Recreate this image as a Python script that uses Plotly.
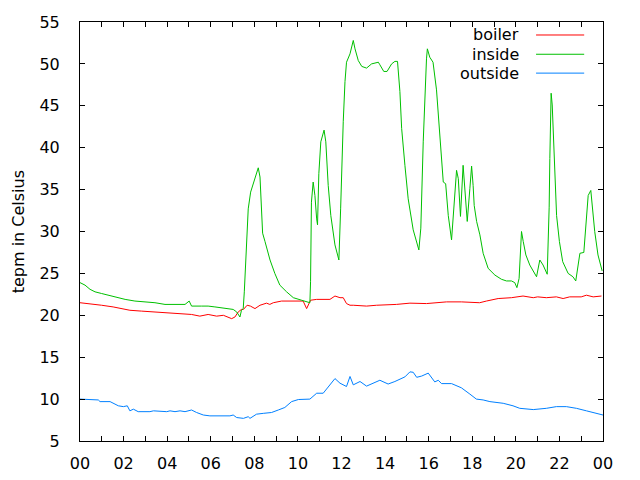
import plotly.graph_objects as go

# temperatures over one day, hours since midnight
boiler_hours = [0.0, 0.38, 0.99, 1.52, 1.91, 2.29, 2.83, 3.44, 4.05, 4.66, 5.12, 5.5, 5.88,
                6.27, 6.58, 6.96, 7.11, 7.26, 7.41, 7.5, 7.67, 7.82, 8.03, 8.26, 8.56, 8.71,
                8.87, 9.25, 9.6, 10.24, 10.4, 10.58, 10.86, 11.01, 11.47, 11.7, 11.93, 12.08,
                12.23, 12.39, 12.54, 13.15, 13.61, 14.52, 15.14, 15.9, 16.5, 16.82, 17.5,
                18.19, 18.34, 18.65, 19.19, 19.8, 20.18, 20.33, 20.8, 21.0, 21.4, 21.86,
                22.17, 22.47, 23.0, 23.24, 23.55, 23.93]
boiler_temp = [21.5, 21.4, 21.2, 21.0, 20.8, 20.6, 20.5, 20.4, 20.3, 20.2, 20.1, 19.9, 20.1,
               19.9, 20.0, 19.6, 19.8, 20.4, 20.7, 20.7, 21.2, 21.1, 20.8, 21.2, 21.45, 21.3,
               21.5, 21.7, 21.7, 21.7, 20.8, 21.8, 21.9, 21.9, 21.9, 22.3, 22.1, 22.1,
               21.4, 21.2, 21.2, 21.1, 21.2, 21.3, 21.45, 21.4, 21.5, 21.6, 21.6,
               21.5, 21.5, 21.7, 22.0, 22.1, 22.2, 22.3, 22.1, 22.2, 22.1, 22.2,
               22.0, 22.2, 22.2, 22.4, 22.2, 22.3]

inside_hours = [0.0, 0.23, 0.46, 0.69, 0.99, 1.3, 1.7, 2.07, 2.52, 2.98, 3.44, 3.9, 4.36,
                4.82, 5.01, 5.12, 5.58, 5.88, 6.19, 6.5, 6.8, 7.03, 7.19, 7.29, 7.34, 7.41,
                7.49, 7.54, 7.65, 7.72, 7.83, 7.95, 8.1, 8.18, 8.26, 8.3, 8.38, 8.49, 8.72,
                8.94, 9.17, 9.48, 9.79, 10.17, 10.55, 10.58, 10.62, 10.7, 10.78, 10.86, 10.9,
                10.96, 11.05, 11.2, 11.28, 11.39, 11.51, 11.7, 11.88, 11.96, 12.03, 12.08,
                12.16, 12.23, 12.39, 12.54, 12.62, 12.77, 12.93, 13.15, 13.38, 13.69, 13.76,
                13.94, 14.09, 14.3, 14.45, 14.57, 14.68, 14.76, 14.91, 15.06, 15.29, 15.55,
                15.64, 15.75, 15.9, 15.94, 16.05, 16.2, 16.36, 16.44, 16.55, 16.67, 16.78,
                16.9, 17.05, 17.13, 17.2, 17.28, 17.36, 17.43, 17.46, 17.58, 17.66, 17.7,
                17.77, 17.89, 17.97, 18.04, 18.09, 18.2, 18.35, 18.5, 18.73, 19.04, 19.34,
                19.57, 19.8, 19.95, 20.05, 20.15, 20.26, 20.34, 20.46, 20.64, 20.95, 21.1,
                21.25, 21.44, 21.48, 21.53, 21.56, 21.59, 21.62, 21.67, 21.71, 21.76, 21.87,
                22.0, 22.15, 22.4, 22.62, 22.75, 22.85, 22.94, 23.12, 23.24, 23.32, 23.44,
                23.51, 23.62, 23.77, 23.96]
inside_temp = [23.9, 23.6, 23.1, 22.8, 22.6, 22.4, 22.1, 21.9, 21.7, 21.6, 21.5, 21.3, 21.3,
               21.3, 21.7, 21.1, 21.1, 21.1, 21.0, 20.9, 20.8, 20.7, 20.4, 20.0, 19.8, 20.6,
               20.8, 22.8, 30.2, 32.7, 34.7, 35.7, 36.9, 37.6, 36.5, 33.7, 29.8, 28.8, 26.6,
               25.0, 23.6, 22.8, 22.1, 21.8, 21.5, 24.0, 33.5, 35.9, 34.3, 31.5, 30.8,
               36.9, 40.7, 42.1, 40.7, 35.5, 31.9, 28.4, 26.6, 32.7, 40.7, 43.1,
               47.9, 50.2, 51.2, 52.8, 51.8, 50.4, 49.7, 49.5, 50.0, 50.2, 49.9,
               49.1, 49.1, 50.0, 50.3, 50.3, 46.7, 42.3, 37.9, 33.9, 30.2, 27.8,
               30.4, 40.7, 50.6, 51.8, 50.8, 50.2, 46.9, 44.0, 39.5, 35.9, 35.7,
               31.9, 29.0, 31.9, 34.1, 37.3, 36.3, 32.7, 31.8, 37.9, 35.1, 33.7,
               31.2, 35.1, 37.8, 35.5, 33.1, 31.2, 29.6, 27.4, 25.6, 24.8, 24.3,
               24.1, 24.1, 23.9, 23.3, 24.4, 30.0, 28.8, 27.2, 26.0, 24.6, 26.6,
               26.0, 24.9, 27.6, 32.9, 38.7, 43.9, 46.5, 45.1, 42.1, 38.9, 31.9,
               28.8, 26.4, 25.0, 24.6, 24.1, 25.6, 27.4, 27.5, 31.5, 34.3, 34.9,
               32.9, 30.0, 27.2, 25.3]

outside_hours = [0.0, 0.84, 0.92, 1.38, 1.76, 1.99, 2.17, 2.29, 2.45, 2.67, 3.21, 3.37, 3.98,
                 4.13, 4.36, 4.59, 4.82, 5.12, 5.35, 5.66, 5.96, 6.88, 7.03, 7.19, 7.5, 7.72,
                 7.8, 8.1, 8.41, 8.79, 9.1, 9.4, 9.71, 10.02, 10.55, 10.86, 11.16, 11.47,
                 11.7, 11.93, 12.23, 12.39, 12.54, 12.85, 13.15, 13.76, 14.14, 14.45, 14.91,
                 15.14, 15.29, 15.45, 15.68, 15.98, 16.28, 16.44, 16.59, 17.05, 17.5, 17.89,
                 18.19, 18.5, 18.81, 19.42, 19.87, 20.18, 20.8, 21.4, 21.86, 22.32, 22.78,
                 23.24, 23.85, 24.0]
outside_temp = [10.0, 9.9, 9.7, 9.7, 9.2, 9.1, 9.2, 8.6, 8.8, 8.5, 8.5, 8.6, 8.5,
                8.6, 8.5, 8.6, 8.5, 8.7, 8.4, 8.1, 8.0, 8.0, 8.1, 7.8, 7.7, 7.9,
                7.7, 8.2, 8.3, 8.4, 8.7, 9.0, 9.7, 9.95, 10.0, 10.7, 10.7, 11.7,
                12.45, 11.9, 11.5, 12.7, 11.7, 12.1, 11.55, 12.25, 11.8, 12.1, 12.65,
                13.25, 13.2, 12.6, 12.75, 13.1, 12.05, 12.25, 11.85, 11.85, 11.35, 10.6,
                10.0, 9.9, 9.7, 9.5, 9.2, 8.9, 8.75, 8.9, 9.1, 9.1, 8.9,
                8.6, 8.2, 8.1]

hour_labels = ["00", "02", "04", "06", "08", "10", "12", "14", "16", "18", "20", "22", "00"]

series = [
    ("boiler", boiler_hours, boiler_temp, "#ff0000"),
    ("inside", inside_hours, inside_temp, "#00c000"),
    ("outside", outside_hours, outside_temp, "#0080ff"),
]

font = "DejaVu Sans"
fig = go.Figure()
for name, xs, ys, col in series:
    fig.add_trace(go.Scatter(x=xs, y=ys, mode="lines", name=name,
                             line=dict(color=col, width=1), showlegend=False))

# gnuplot style key: text right aligned, line sample after it
key_y = [0.969, 0.923, 0.878]
for (name, xs, ys, col), ky in zip(series, key_y):
    fig.add_annotation(x=0.843, y=ky, xref="paper", yref="paper", text=name,
                       showarrow=False, xanchor="right", yanchor="middle",
                       font=dict(family=font, size=16, color="black"))
    fig.add_shape(type="line", xref="paper", yref="paper", x0=0.872, x1=0.964,
                  y0=ky, y1=ky, line=dict(color=col, width=1))

fig.add_annotation(x=-0.117, y=0.5, xref="paper", yref="paper", text="tepm in Celsius",
                   textangle=-90, showarrow=False, xanchor="center", yanchor="middle",
                   font=dict(family=font, size=16, color="black"))

ticktext = []
for h in range(25):
    ticktext.append(hour_labels[h // 2] if h % 2 == 0 else "")

axis_style = dict(showgrid=False, zeroline=False, showline=True, linecolor="black",
                  linewidth=1, mirror="ticks", ticks="inside", ticklen=5,
                  tickcolor="black", automargin=False,
                  tickfont=dict(family=font, size=16, color="black"))
fig.update_xaxes(range=[0, 24], tickvals=list(range(25)), ticktext=ticktext,
                 ticklabelstandoff=8, **axis_style)
fig.update_yaxes(range=[5, 55], dtick=5, ticklabelstandoff=16, **axis_style)

# the page body adds an 8px offset, so the margins are shifted to compensate
fig.update_layout(width=640, height=480, margin=dict(l=72, r=45, t=14, b=47),
                  plot_bgcolor="white", paper_bgcolor="white", showlegend=False,
                  font=dict(family=font))
fig.write_html("out.html")
